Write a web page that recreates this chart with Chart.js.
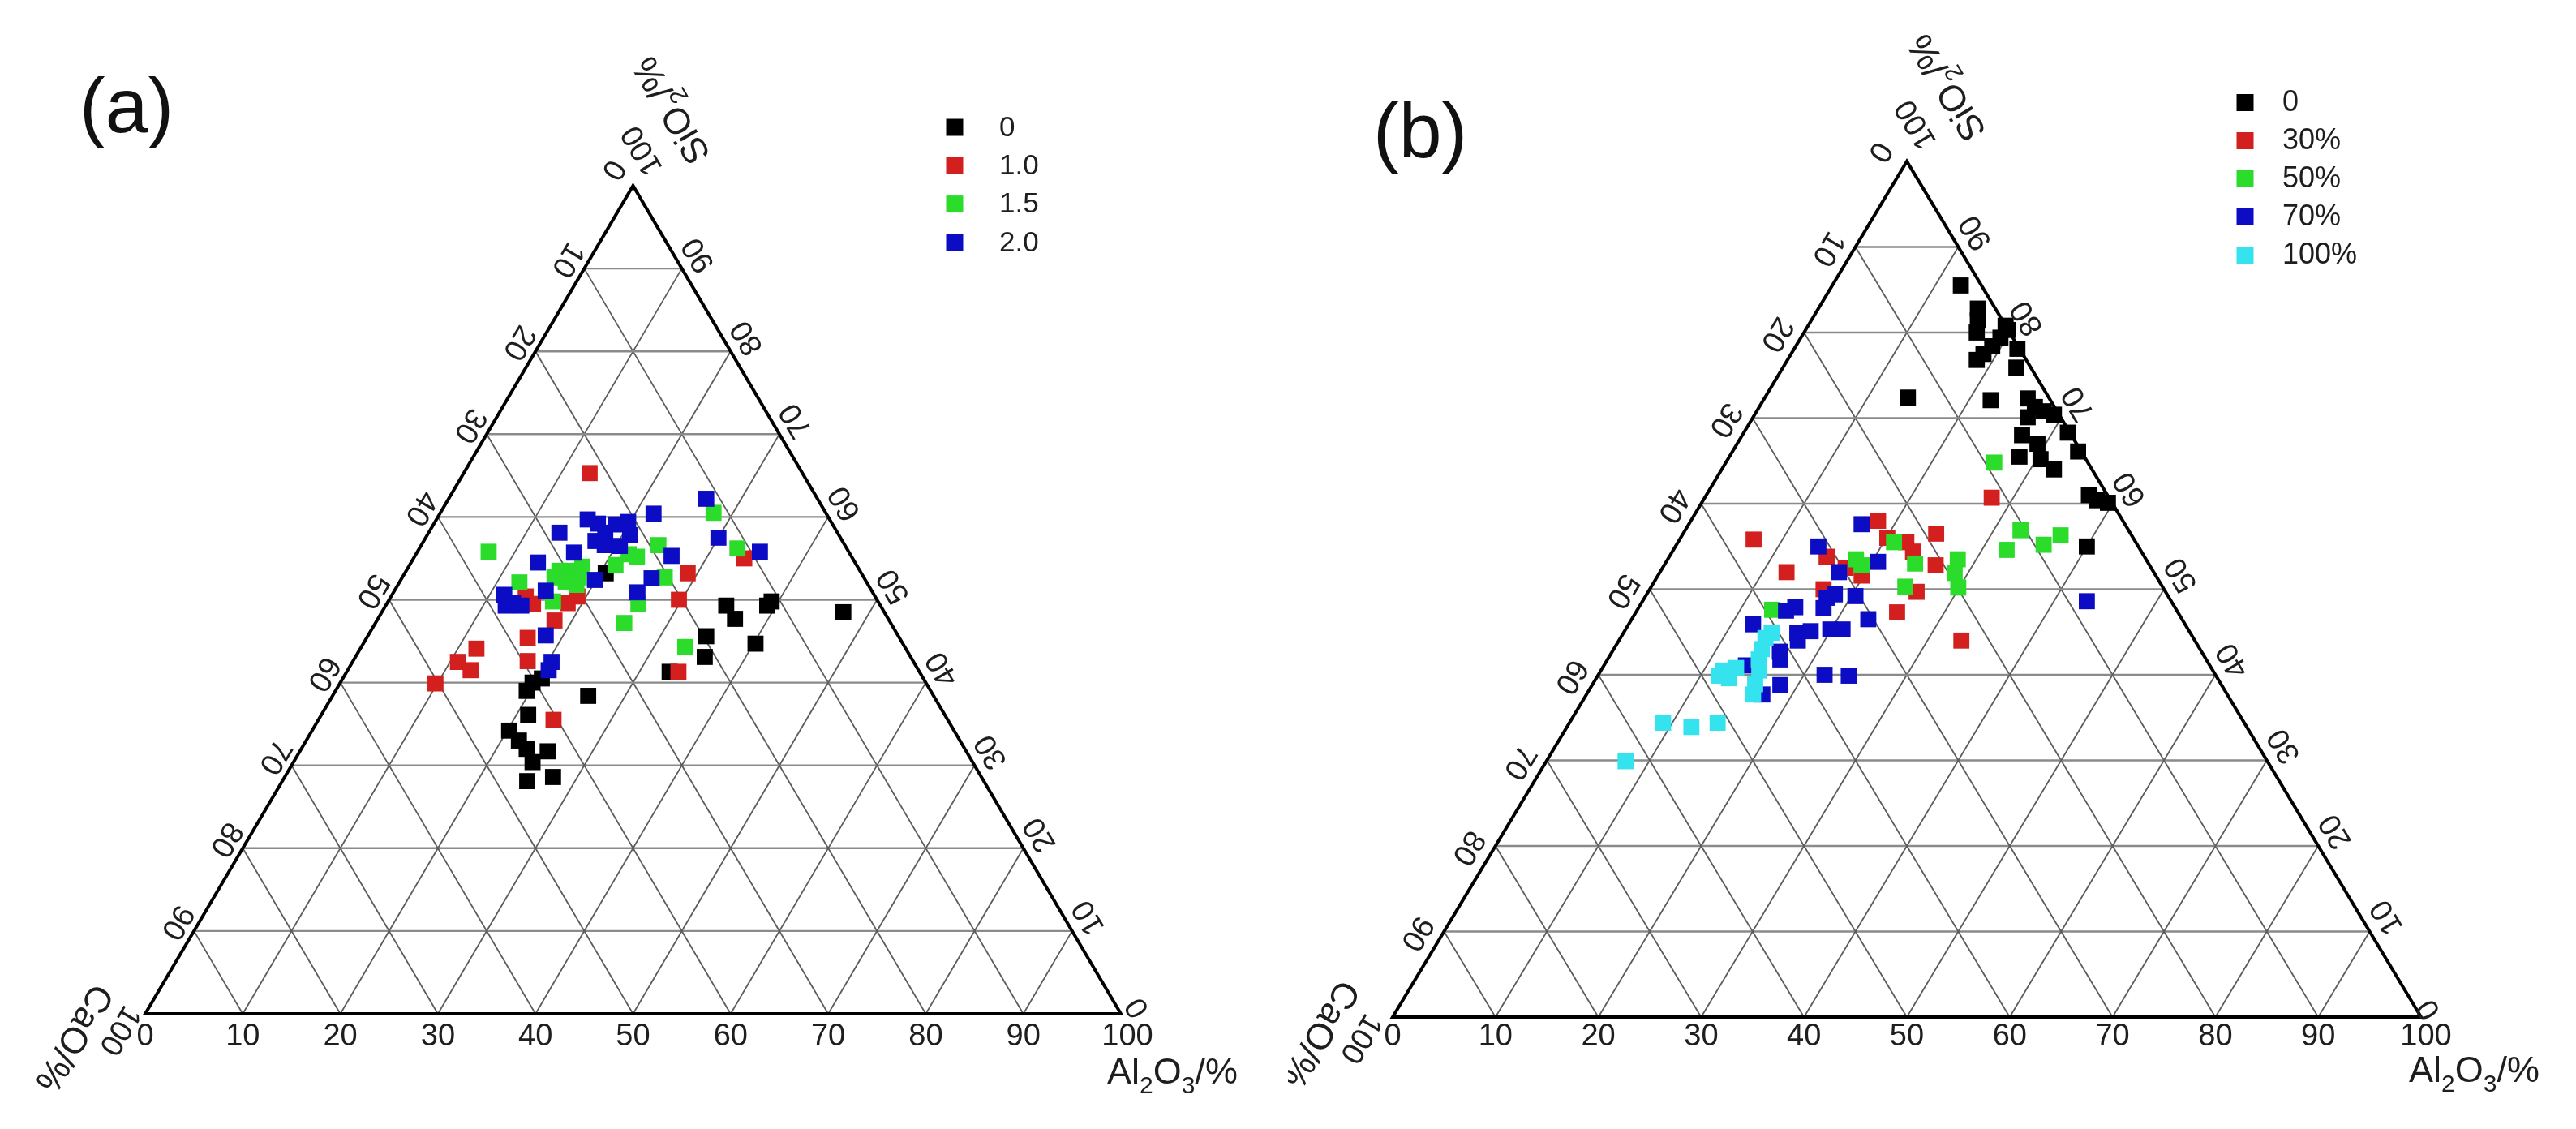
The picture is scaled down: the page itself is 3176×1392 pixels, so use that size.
<!DOCTYPE html>
<html><head><meta charset="utf-8">
<script src="https://cdn.jsdelivr.net/npm/chart.js@4.4.1/dist/chart.umd.min.js"></script>
<style>
html,body{margin:0;padding:0;background:#fff;}
#wrap{position:relative;width:3176px;height:1392px;background:#fff;}
canvas{position:absolute;top:0;}
</style></head><body>
<div id="wrap">
<canvas id="ca" width="1588" height="1392" style="left:0;width:1588px;height:1392px"></canvas>
<canvas id="cb" width="1588" height="1392" style="left:1588px;width:1588px;height:1392px"></canvas>
</div>
<script>
// ---- data: each point is [Al2O3 %, SiO2 %]; CaO % = 100 - Al2O3 - SiO2 ----
const tickValues = [0,10,20,30,40,50,60,70,80,90,100];

// panel (a): legend labels
const labelsA = ['0','1.0','1.5','2.0'];
const a_0 = [[20.6,53.2],[34.9,49.3],[36.6,47.7],[39.1,49.3],[39.3,49.8],[47.3,48.5],[34.7,45.6],[35.8,43.1],[40.2,44.7],[33.1,41.3],[20.4,40.5],[19.7,40.0],[19.6,39.0],[26.2,38.4],[21.2,36.1],[20.2,34.2],[21.8,33.0],[23.1,32.0],[25.4,31.7],[24.5,30.4],[25.1,28.1],[27.5,28.6]];
const a_10 = [[12.9,65.3],[29.0,53.2],[29.7,50.0],[33.9,55.0],[15.0,49.5],[13.8,50.4],[18.5,49.6],[19.1,50.4],[18.2,47.5],[16.5,45.4],[11.9,44.1],[10.8,42.5],[12.6,41.5],[9.8,39.9],[17.9,42.6],[34.0,41.3],[24.1,35.5]];
const a_15 = [[7.3,55.8],[28.0,60.5],[32.6,56.2],[24.3,56.6],[22.8,55.2],[21.8,55.5],[21.1,54.2],[26.9,52.7],[15.7,53.5],[17.0,53.5],[18.1,52.7],[17.0,52.2],[18.3,51.8],[15.6,52.7],[17.8,54.0],[12.3,52.1],[16.9,49.8],[25.8,49.5],[25.5,47.2],[33.2,44.3]];
const a_20 = [[26.4,62.2],[21.9,60.4],[30.0,57.5],[35.1,55.8],[15.5,59.7],[16.8,59.2],[17.6,57.1],[18.1,58.1],[18.7,59.1],[19.8,59.4],[20.8,57.8],[20.4,56.5],[18.8,56.6],[13.4,58.1],[16.1,55.7],[13.0,54.5],[26.3,55.3],[25.6,52.6],[25.0,50.9],[19.9,52.4],[15.5,51.1],[11.5,50.6],[12.9,49.6],[12.3,49.3],[13.9,49.3],[18.2,45.7],[20.4,42.5],[20.6,41.5]];

// panel (b): legend labels
const labelsB = ['0','30%','50%','70%','100%'];
const b_0 = [[12.5,85.5],[15.5,82.8],[16.2,81.4],[16.8,80.0],[19.2,80.8],[19.7,80.3],[19.4,79.4],[19.1,78.4],[18.7,77.5],[18.4,76.8],[21.7,78.1],[22.7,75.9],[13.9,72.4],[22.1,72.1],[25.6,72.3],[26.8,71.3],[27.9,70.8],[26.7,70.1],[29.1,70.4],[31.5,68.3],[33.6,66.1],[27.2,68.0],[29.2,67.0],[28.2,65.5],[30.4,65.2],[32.3,64.0],[37.2,61.0],[38.3,60.4],[39.5,60.1],[40.0,55.0]];
const b_30 = [[27.9,60.7],[7.2,55.8],[18.2,58.0],[24.6,56.5],[12.3,52.0],[15.3,53.8],[22.2,55.5],[23.4,54.4],[20.1,56.0],[26.4,52.8],[19.8,51.6],[17.8,52.5],[26.1,49.7],[16.9,50.0],[25.4,47.3],[33.3,44.0]];
const b_50 = [[26.1,64.8],[18.3,53.5],[19.2,52.8],[21.0,55.5],[24.3,53.0],[24.7,50.3],[28.2,53.5],[29.9,50.2],[28.7,51.9],[32.6,56.9],[32.4,54.6],[35.7,55.2],[36.8,56.3],[13.1,47.6]];
const b_70 = [[16.8,57.6],[13.9,55.0],[17.4,52.0],[20.6,53.2],[17.7,49.0],[18.3,49.4],[20.4,49.2],[18.0,47.8],[15.2,47.9],[14.5,47.5],[12.1,45.9],[23.0,46.5],[16.9,44.9],[18.1,45.1],[19.9,45.3],[21.1,45.3],[17.4,44.0],[16.3,42.7],[16.8,41.8],[13.8,41.1],[22.0,40.0],[24.4,39.9],[18.3,38.8],[17.1,37.7],[43.2,48.6]];
const b_100 = [[14.1,44.3],[14.4,43.0],[14.7,41.8],[15.4,40.5],[11.9,40.5],[12.9,39.6],[11.8,39.9],[15.8,38.9],[16.2,37.7],[13.0,40.8],[14.4,44.9],[9.1,34.4],[12.1,33.9],[14.4,34.4],[7.7,29.9]];

// ---- styling ----
const FONT = '"Liberation Sans", Arial, Helvetica, sans-serif';
const TXT = '#1e1e1e';
const COLORS_A = ['#000000','#d41f1f','#2bdc2b','#0c0cc4'];
const COLORS_B = ['#000000','#d41f1f','#2bdc2b','#0c0cc4','#35e3ee'];

function toXY(pairs){ return pairs.map(p => ({x: p[0] + p[1]/2, y: p[1]})); }

function makeDatasets(seriesList, labels, colors, orders){
  return seriesList.map((s,i) => ({
    label: labels[i],
    data: toXY(s),
    backgroundColor: colors[i],
    borderColor: colors[i],
    borderWidth: 0,
    pointStyle: 'rect',
    pointRadius: 14,
    pointHoverRadius: 14,
    showLine: false,
    clip: false,
    order: orders[i]
  }));
}

function rich(ctx, parts, x, y, ang, size, align){
  ctx.save();
  ctx.translate(x, y);
  ctx.rotate(ang);
  const big = size + 'px ' + FONT, small = Math.round(size*0.66) + 'px ' + FONT;
  let w = 0;
  parts.forEach(p => { ctx.font = p.sub ? small : big; p.w = ctx.measureText(p.t).width; w += p.w; });
  let cx = align === 'center' ? -w/2 : 0;
  const base = align === 'center' ? size*0.36 : 0;
  ctx.textAlign = 'left';
  ctx.textBaseline = 'alphabetic';
  ctx.fillStyle = TXT;
  parts.forEach(p => { ctx.font = p.sub ? small : big; ctx.fillText(p.t, cx, base + (p.sub ? size*0.27 : 0)); cx += p.w; });
  ctx.restore();
}

function rotText(ctx, t, x, y, ang, size){
  ctx.save();
  ctx.translate(x, y);
  ctx.rotate(ang);
  ctx.font = size + 'px ' + FONT;
  ctx.fillStyle = TXT;
  ctx.textAlign = 'center';
  ctx.textBaseline = 'middle';
  ctx.fillText(t, 0, 0);
  ctx.restore();
}

function ternPlugin(cfg){
  const P = (chart, al, si) => ({
    x: chart.scales.x.getPixelForValue(al + si/2),
    y: chart.scales.y.getPixelForValue(si)
  });
  return {
    id: 'ternary',
    beforeDatasetsDraw(chart){
      const ctx = chart.ctx;
      const line = (a, b) => { ctx.beginPath(); ctx.moveTo(a.x, a.y); ctx.lineTo(b.x, b.y); ctx.stroke(); };
      ctx.save();
      ctx.lineCap = 'butt';
      for (let k = 10; k <= 90; k += 10){
        ctx.strokeStyle = '#8a8a8a'; ctx.lineWidth = 2.4;
        line(P(chart,0,k), P(chart,100-k,k));
        ctx.strokeStyle = '#5c5c5c'; ctx.lineWidth = 1.8;
        line(P(chart,k,0), P(chart,k,100-k));
        line(P(chart,100-k,0), P(chart,0,100-k));
      }
      ctx.strokeStyle = '#000'; ctx.lineWidth = 4; ctx.lineJoin = 'miter';
      const A = P(chart,0,0), B = P(chart,100,0), C = P(chart,0,100);
      ctx.beginPath(); ctx.moveTo(A.x,A.y); ctx.lineTo(B.x,B.y); ctx.lineTo(C.x,C.y); ctx.closePath(); ctx.stroke();
      ctx.restore();
    },
    afterDatasetsDraw(chart){
      const ctx = chart.ctx;
      const BL = P(chart,0,0), BR = P(chart,100,0), AP = P(chart,0,100);
      const angL = Math.atan2(BL.y - AP.y, BL.x - AP.x);
      const angR = Math.atan2(AP.y - BR.y, AP.x - BR.x);
      const fs = cfg.tickFont;
      tickValues.forEach(v => {
        // bottom axis: Al2O3
        const b = P(chart, v, 0);
        ctx.save(); ctx.font = fs + 'px ' + FONT; ctx.fillStyle = TXT; ctx.textAlign = 'center'; ctx.textBaseline = 'middle';
        ctx.fillText(String(v), b.x + (v === 100 ? cfg.b100dx : 0), b.y + cfg.bottomDy);
        ctx.restore();
        // left axis: CaO = v
        const l = P(chart, 0, 100 - v);
        const lo = v === 100 ? cfg.blOff : (v === 0 ? cfg.apLOff : cfg.leftOff);
        rotText(ctx, String(v), l.x + lo[0], l.y + lo[1], angL, fs);
        // right axis: SiO2 = v
        const r = P(chart, 100 - v, v);
        const ro = v === 100 ? cfg.apROff : (v === 0 ? cfg.brOff : cfg.rightOff);
        rotText(ctx, String(v), r.x + ro[0], r.y + ro[1], angR, fs);
      });
      // axis titles
      rich(ctx, [{t:'SiO'},{t:'2',sub:true},{t:'/%'}], AP.x + cfg.siOff[0], AP.y + cfg.siOff[1], angR, cfg.titleFont, 'center');
      rich(ctx, [{t:'CaO/%'}], BL.x + cfg.caOff[0], BL.y + cfg.caOff[1], angL, cfg.titleFont, 'center');
      rich(ctx, [{t:'Al'},{t:'2',sub:true},{t:'O'},{t:'3',sub:true},{t:'/%'}], BR.x + cfg.alOff[0], BR.y + cfg.alOff[1], 0, cfg.titleFont, 'left');
      // legend
      ctx.save();
      chart.data.datasets.forEach((ds, i) => {
        const y = cfg.legY + i*cfg.legDy;
        ctx.fillStyle = ds.backgroundColor;
        ctx.fillRect(cfg.legX - 10.5, y - 10.5, 21, 21);
        ctx.fillStyle = TXT;
        ctx.font = cfg.legFont + 'px ' + FONT;
        ctx.textAlign = 'left'; ctx.textBaseline = 'middle';
        ctx.fillText(ds.label, cfg.legTx, y + 1);
      });
      // panel letter
      ctx.font = cfg.panelFont + 'px ' + FONT;
      ctx.textAlign = 'left'; ctx.textBaseline = 'alphabetic';
      ctx.fillStyle = '#111';
      ctx.fillText(cfg.panel, cfg.panelX, cfg.panelY);
      ctx.restore();
    }
  };
}

function build(id, datasets, pad, cfg){
  return new Chart(document.getElementById(id), {
    type: 'scatter',
    data: { datasets },
    options: {
      responsive: false, animation: false, devicePixelRatio: 1, events: [],
      layout: { padding: pad },
      plugins: { legend: { display: false }, tooltip: { enabled: false } },
      scales: {
        x: { type: 'linear', min: 0, max: 100, display: false },
        y: { type: 'linear', min: 0, max: 100, display: false }
      }
    },
    plugins: [ternPlugin(cfg)]
  });
}

build('ca',
  makeDatasets([a_0, a_10, a_15, a_20], labelsA, COLORS_A, [4,3,2,1]),
  { left: 179, right: 206, top: 229, bottom: 142 },
  { tickFont: 38, titleFont: 45, legFont: 35, panelFont: 95,
    bottomDy: 29, b100dx: 8,
    leftOff: [-21,-11], blOff: [-32,20], apLOff: [-25,-20],
    rightOff: [21,-17], brOff: [21,-8], apROff: [12,-44],
    siOff: [46,-92], caOff: [-86,31], alOff: [-17,86],
    legX: 1177, legY: 157, legDy: 47.3, legTx: 1232,
    panel: '(a)', panelX: 98, panelY: 163 });

build('cb',
  makeDatasets([b_0, b_30, b_50, b_70, b_100], labelsB, COLORS_B, [5,4,3,2,1]),
  { left: 129, right: 191, top: 199, bottom: 138 },
  { tickFont: 38, titleFont: 45, legFont: 36, panelFont: 95,
    bottomDy: 25, b100dx: 6,
    leftOff: [-34,2], blOff: [-40,26], apLOff: [-34,-12],
    rightOff: [22,-18], brOff: [10,-10], apROff: [12,-46],
    siOff: [48,-90], caOff: [-88,22], alOff: [-15,80],
    legX: 1180, legY: 126.5, legDy: 47, legTx: 1226,
    panel: '(b)', panelX: 105, panelY: 194 });
</script>
</body></html>
